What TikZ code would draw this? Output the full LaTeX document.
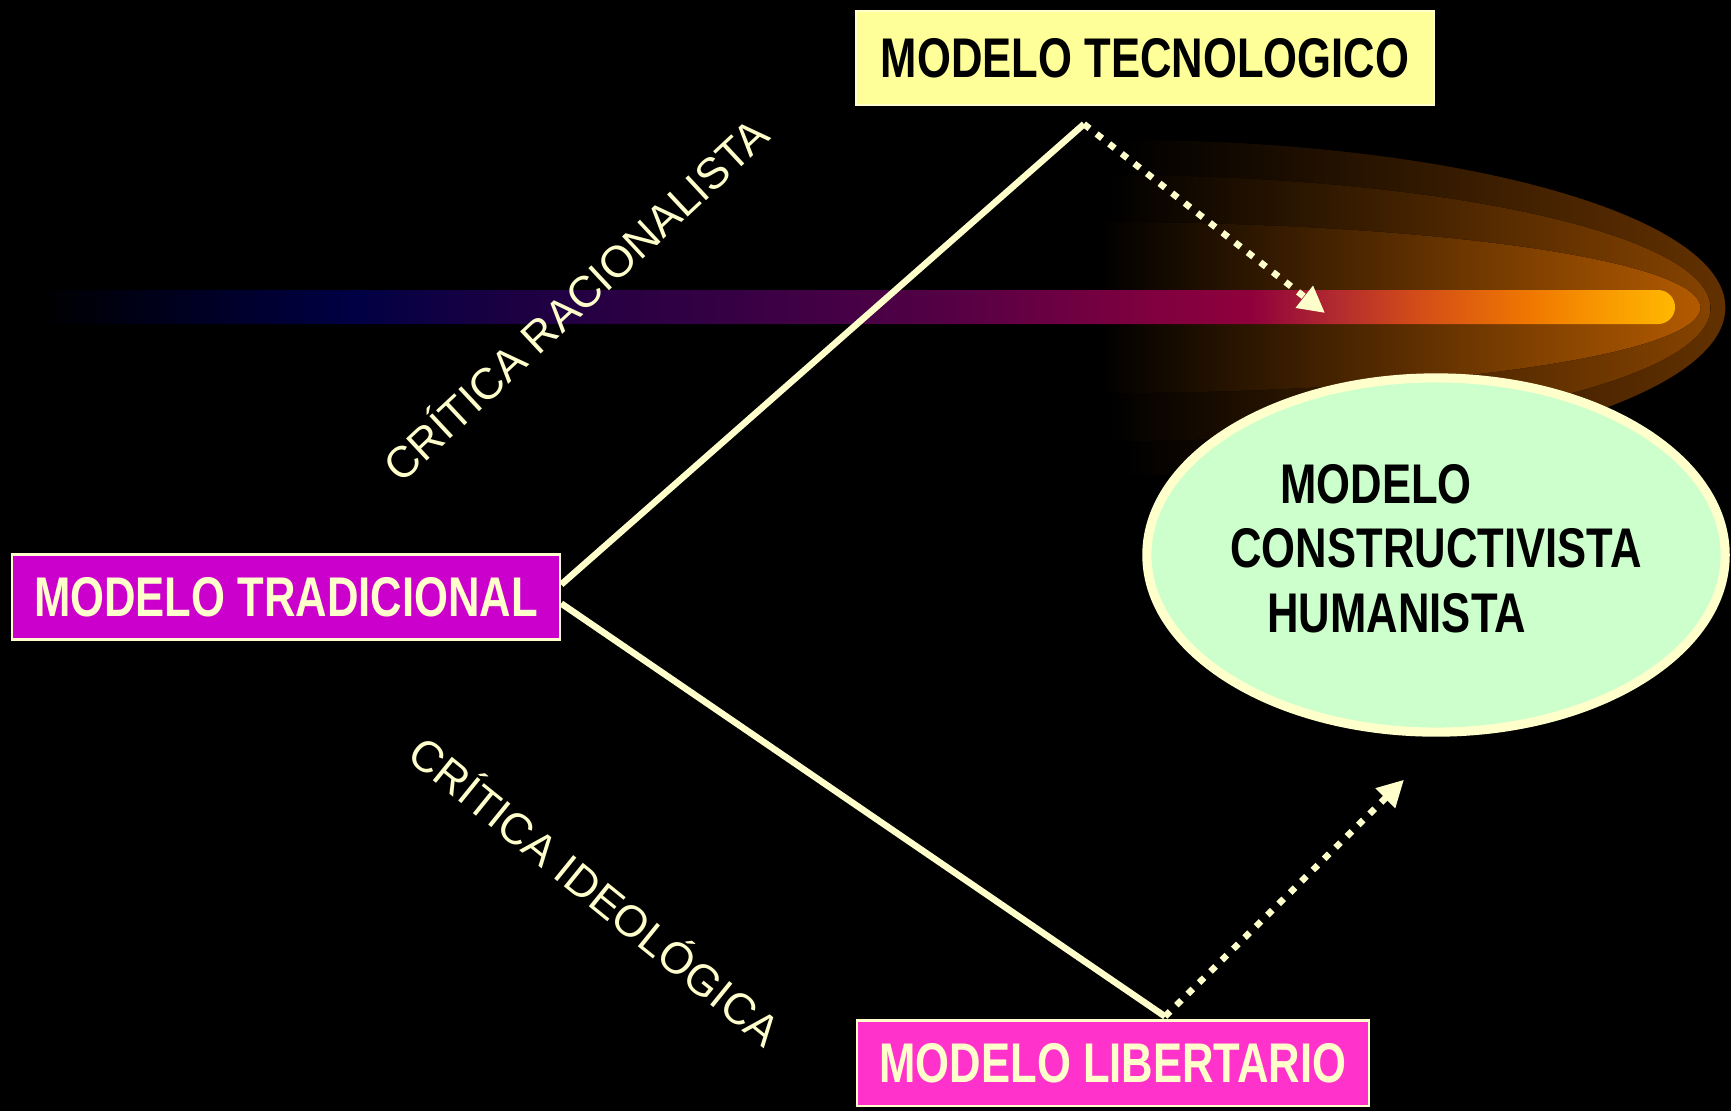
\documentclass[tikz,border=0pt]{standalone}
\usepackage{fontspec}
\setmainfont{Liberation Sans}
\newfontfamily\narrowsans[FakeStretch=0.78]{Liberation Sans}
\usetikzlibrary{shapes,arrows,arrows.meta}

\definecolor{cream}{HTML}{FFFFCC}
\definecolor{tecyellow}{HTML}{FFFF99}
\definecolor{tradmagenta}{HTML}{CC00CC}
\definecolor{libpink}{HTML}{FF33CC}
\definecolor{humgreen}{HTML}{CCFFCC}
\definecolor{glowa}{HTML}{633100}
\definecolor{glowb}{HTML}{864300}
\definecolor{glowc}{HTML}{B35A00}
\definecolor{comnavy}{HTML}{000044}
\definecolor{comindigo}{HTML}{1A0042}
\definecolor{compurple}{HTML}{330044}
\definecolor{complum}{HTML}{550045}
\definecolor{commag}{HTML}{80003F}
\definecolor{comcrim}{HTML}{8E003C}
\definecolor{comred}{HTML}{B02830}
\definecolor{comrust}{HTML}{D04A1A}
\definecolor{comorange}{HTML}{F07800}
\definecolor{comamber}{HTML}{F89800}
\definecolor{comgold}{HTML}{FFB800}

\pgfdeclarehorizontalshading{cometshade}{100bp}{color(0bp)=(black); color(26bp)=(black);
  color(35.5bp)=(comnavy); color(40bp)=(comindigo); color(46bp)=(compurple);
  color(53.4bp)=(complum); color(59.3bp)=(commag); color(62.3bp)=(comcrim);
  color(64.7bp)=(comred); color(67.1bp)=(comrust); color(70.7bp)=(comorange);
  color(72.8bp)=(comamber); color(75bp)=(comgold); color(100bp)=(comgold)}

\tikzstyle{modelbox} = [draw=cream, line width=0.6pt, text=cream, inner sep=0, minimum height=0.94cm, font=\narrowsans\bfseries\fontsize{15.9}{19}\selectfont]
\tikzstyle{linkline} = [draw=cream, line width=1.85pt]
\tikzstyle{dotarrow} = [draw=cream, line width=1.85pt, dash pattern=on 2pt off 2.55pt, -{Triangle[length=7.5pt, width=7.5pt]}]
\tikzstyle{critlabel} = [text=cream, inner sep=0, font=\fontsize{12.5}{15}\selectfont]

\begin{document}
\begin{tikzpicture}[x=0.01cm, y=-0.01cm]
\useasboundingbox (0, 0) rectangle (1731, 1111);
\fill [black] (0, 0) rectangle (1731, 1111);

% glow round the head of the comet
\fill [left color=black, middle color=glowa, right color=glowa] (1123, 140) arc [start angle=90, end angle=-90, x radius=6.02cm, y radius=1.675cm] -- cycle;
\fill [left color=black, middle color=glowb, right color=glowb] (1108, 175) arc [start angle=90, end angle=-90, x radius=6.02cm, y radius=1.33cm] -- cycle;
\fill [left color=black, middle color=glowc, right color=glowc] (1100, 222) arc [start angle=90, end angle=-90, x radius=6.0cm, y radius=0.855cm] -- cycle;
\shade [shading=cometshade] (0, 290) -- (1658, 290) arc [start angle=90, end angle=-90, radius=0.17cm] -- (0, 324) -- cycle;

\node [modelbox, fill=tecyellow, text=black, minimum width=5.78cm] at (1145, 58) (tecno) {MODELO TECNOLOGICO};
\node [modelbox, fill=tradmagenta, minimum width=5.48cm, minimum height=0.85cm] at (286, 597) (tradicional) {MODELO TRADICIONAL};
\node [modelbox, fill=libpink, minimum width=5.11cm, minimum height=0.85cm] at (1113, 1063) (libertario) {MODELO LIBERTARIO};

\node [ellipse, draw=cream, line width=2.6pt, fill=humgreen, inner sep=0, minimum width=5.78cm, minimum height=3.54cm, font=\narrowsans\bfseries\fontsize{15.9}{18.4}\selectfont] at (1436, 555) (humanista) {\makebox[0pt]{\begin{tabular}{@{}l@{}}\hspace{0.5cm}MODELO\\ CONSTRUCTIVISTA\\ \hspace{0.37cm}HUMANISTA\end{tabular}}};

\coordinate (tecfoot) at ([xshift=-0.61cm, yshift=-0.18cm]tecno.south);
\coordinate (libtop) at ([xshift=0.52cm, yshift=0.03cm]libertario.north);
\coordinate (cometpt) at (1325, 313);
\coordinate (ovalpt) at ([xshift=-0.32cm, yshift=-0.43cm]humanista.south);

\path [linkline] ([yshift=0.125cm]tradicional.east) -- (tecfoot);
\path [linkline] ([yshift=-0.065cm]tradicional.east) -- (libtop);

\node [critlabel, rotate=43] at (574, 298) (racional) {CRÍTICA RACIONALISTA};
\node [critlabel, rotate=-39] at (597, 889) (ideologica) {CRÍTICA IDEOLÓGICA};

\path [dotarrow] (tecfoot) -- (cometpt);
\path [dotarrow] (libtop) -- (ovalpt);
\end{tikzpicture}
\end{document}
